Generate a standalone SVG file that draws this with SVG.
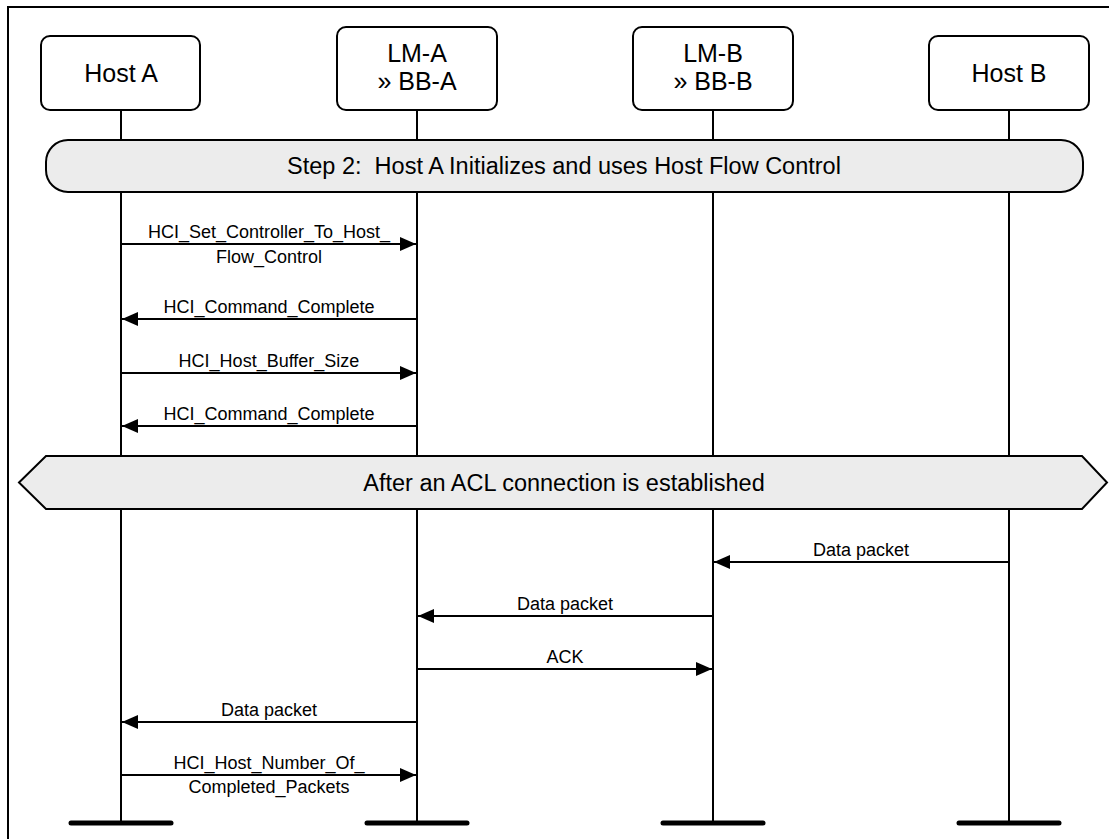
<svg xmlns="http://www.w3.org/2000/svg" width="1109" height="839" viewBox="0 0 1109 839">
<style>
text{font-family:"Liberation Sans",Arial,sans-serif;fill:#000}
.box{fill:#fff;stroke:#000;stroke-width:2}
.lbl{font-size:25px;text-anchor:middle}
.band{fill:#ececec;stroke:#000;stroke-width:2}
.btxt{font-size:23.5px;text-anchor:middle}
.life{stroke:#000;stroke-width:2;fill:none}
.endbar{stroke:#000;stroke-width:5;stroke-linecap:round}
.msg{stroke:#000;stroke-width:2;fill:none;marker-end:url(#ah)}
.mtxt{font-size:18px;text-anchor:middle}
</style>
<defs>
<marker id="ah" viewBox="0 0 16 14" refX="16" refY="7" markerWidth="16" markerHeight="14" markerUnits="userSpaceOnUse" orient="auto">
<path d="M0,0 L16,7 L0,14 Z" fill="#000"/>
</marker>
</defs>
<rect width="1109" height="839" fill="#fff"/>
<path d="M8,839 V7 H1109" fill="none" stroke="#000" stroke-width="2"/>

<g id="lifelines">
<line class="life" x1="121" y1="110" x2="121" y2="823"/>
<line class="life" x1="417" y1="110" x2="417" y2="823"/>
<line class="life" x1="713" y1="110" x2="713" y2="823"/>
<line class="life" x1="1009" y1="110" x2="1009" y2="823"/>
<line class="endbar" x1="71" y1="823" x2="171" y2="823"/>
<line class="endbar" x1="367" y1="823" x2="467" y2="823"/>
<line class="endbar" x1="663" y1="823" x2="763" y2="823"/>
<line class="endbar" x1="959" y1="823" x2="1059" y2="823"/>
</g>

<g id="hostA">
<rect class="box" x="41" y="36" width="159" height="74" rx="9"/>
<text class="lbl" x="121" y="82">Host A</text>
</g>
<g id="lmA">
<rect class="box" x="337" y="27" width="160" height="83" rx="9"/>
<text class="lbl" x="417" y="62">LM-A</text>
<text class="lbl" x="417" y="90">» BB-A</text>
</g>
<g id="lmB">
<rect class="box" x="633" y="27" width="160" height="83" rx="9"/>
<text class="lbl" x="713" y="62">LM-B</text>
<text class="lbl" x="713" y="90">» BB-B</text>
</g>
<g id="hostB">
<rect class="box" x="929" y="36" width="160" height="74" rx="9"/>
<text class="lbl" x="1009" y="82">Host B</text>
</g>

<g id="step2">
<rect class="band" x="46" y="140" width="1037" height="52" rx="22"/>
<text class="btxt" x="564" y="174" xml:space="preserve">Step 2:  Host A Initializes and uses Host Flow Control</text>
</g>

<g id="acl">
<path class="band" d="M19,482.5 L46,456 L1082,456 L1107,482.5 L1082,509 L46,509 Z"/>
<text class="btxt" x="564" y="491">After an ACL connection is established</text>
</g>

<g id="connectors">
<line class="msg" x1="121" y1="244" x2="416" y2="244"/>
<text class="mtxt" x="269" y="238">HCI_Set_Controller_To_Host_</text>
<text class="mtxt" x="269" y="263">Flow_Control</text>

<line class="msg" x1="417" y1="319" x2="122" y2="319"/>
<text class="mtxt" x="269" y="313">HCI_Command_Complete</text>

<line class="msg" x1="121" y1="373" x2="416" y2="373"/>
<text class="mtxt" x="269" y="367">HCI_Host_Buffer_Size</text>

<line class="msg" x1="417" y1="426" x2="122" y2="426"/>
<text class="mtxt" x="269" y="420">HCI_Command_Complete</text>

<line class="msg" x1="1009" y1="562" x2="714" y2="562"/>
<text class="mtxt" x="861" y="556">Data packet</text>

<line class="msg" x1="713" y1="616" x2="418" y2="616"/>
<text class="mtxt" x="565" y="610">Data packet</text>

<line class="msg" x1="417" y1="669" x2="712" y2="669"/>
<text class="mtxt" x="565" y="663">ACK</text>

<line class="msg" x1="417" y1="722" x2="122" y2="722"/>
<text class="mtxt" x="269" y="716">Data packet</text>

<line class="msg" x1="121" y1="775" x2="416" y2="775"/>
<text class="mtxt" x="269" y="769">HCI_Host_Number_Of_</text>
<text class="mtxt" x="269" y="793">Completed_Packets</text>
</g>
</svg>
